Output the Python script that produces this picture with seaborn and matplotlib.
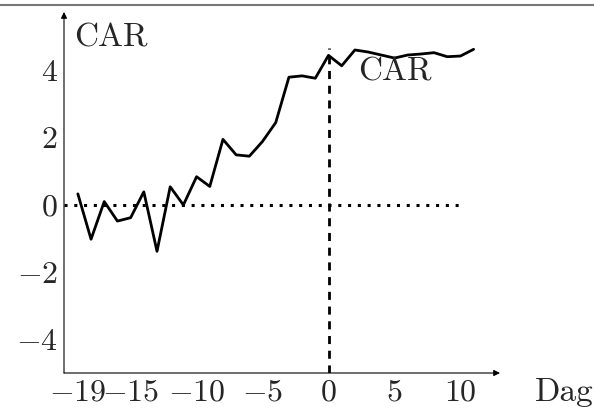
import numpy as np
import pandas as pd
import matplotlib
import matplotlib.pyplot as plt
import seaborn as sns
from matplotlib.lines import Line2D

# event window days and cumulative abnormal return
days = list(range(-19, 12))
car = [0.33, -1.02, 0.10, -0.48, -0.38, 0.39, -1.38, 0.54, 0.00,
       0.84, 0.55, 1.95, 1.49, 1.45, 1.89, 2.45, 3.80, 3.84, 3.77,
       4.45, 4.14, 4.61, 4.55, 4.46, 4.37, 4.46, 4.49, 4.53, 4.41,
       4.43, 4.63]
x_ticks = [-19, -15, -10, -5, 0, 5, 10]
y_ticks = [-4, -2, 0, 2, 4]

df = pd.DataFrame({'Dag': days, 'CAR': car})

sns.set_style('white')
plt.rcParams['font.family'] = 'serif'
plt.rcParams['font.serif'] = ['cmr10']
plt.rcParams['mathtext.fontset'] = 'cm'
plt.rcParams['axes.formatter.use_mathtext'] = True

fs = 24

fig = plt.figure(figsize=(5.94, 4.12), dpi=100)
ax = fig.add_axes([64 / 594, 1 - 373 / 412, 436 / 594, 361 / 412])

sns.lineplot(data=df, x='Dag', y='CAR', color='black', lw=2.0, ax=ax)

# zero line and event day
ax.plot([-20.05, 10], [0, 0], color='black', lw=2.2, linestyle=(0, (1.0, 2.2)),
        dash_capstyle='butt')
ax.plot([0, 0], [-5, 4.68], color='black', lw=2.0, linestyle=(0, (2.9, 2.4)))

ax.set_xlim(-20.05, 13)
ax.set_ylim(-5, 5.74)
ax.set_xticks(x_ticks)
ax.set_yticks(y_ticks)
ax.set_xticklabels([f'${t}$' if t >= 0 else f'$-{-t}$' for t in x_ticks])
ax.set_yticklabels([f'${t}$' if t >= 0 else f'$-{-t}$' for t in y_ticks])
ax.tick_params(axis='both', which='major', direction='inout', length=7,
               width=0.6, color='#888888', labelsize=fs - 1, pad=1)
ax.set_xlabel('')
ax.set_ylabel('')

for s in ax.spines.values():
    s.set_visible(False)
ax.annotate('', xy=(1, 0), xytext=(0, 0), xycoords='axes fraction',
            arrowprops=dict(arrowstyle='-|>', lw=0.8, color='black',
                            mutation_scale=9, shrinkA=0, shrinkB=0))
ax.annotate('', xy=(0, 1), xytext=(0, 0), xycoords='axes fraction',
            arrowprops=dict(arrowstyle='-|>', lw=0.8, color='black',
                            mutation_scale=9, shrinkA=0, shrinkB=0))

ax.text(-19.3, 4.97, 'CAR', fontsize=fs, ha='left', va='center')
ax.text(5, 3.95, 'CAR', fontsize=fs, ha='center', va='center')
ax.text(17.9, -5.58, 'Dag', fontsize=fs, ha='center', va='center', clip_on=False)

fig.add_artist(Line2D([0, 1], [1 - 4.5 / 412, 1 - 4.5 / 412], color='#777777', lw=1.5))

fig.savefig('out.png', dpi=100)
